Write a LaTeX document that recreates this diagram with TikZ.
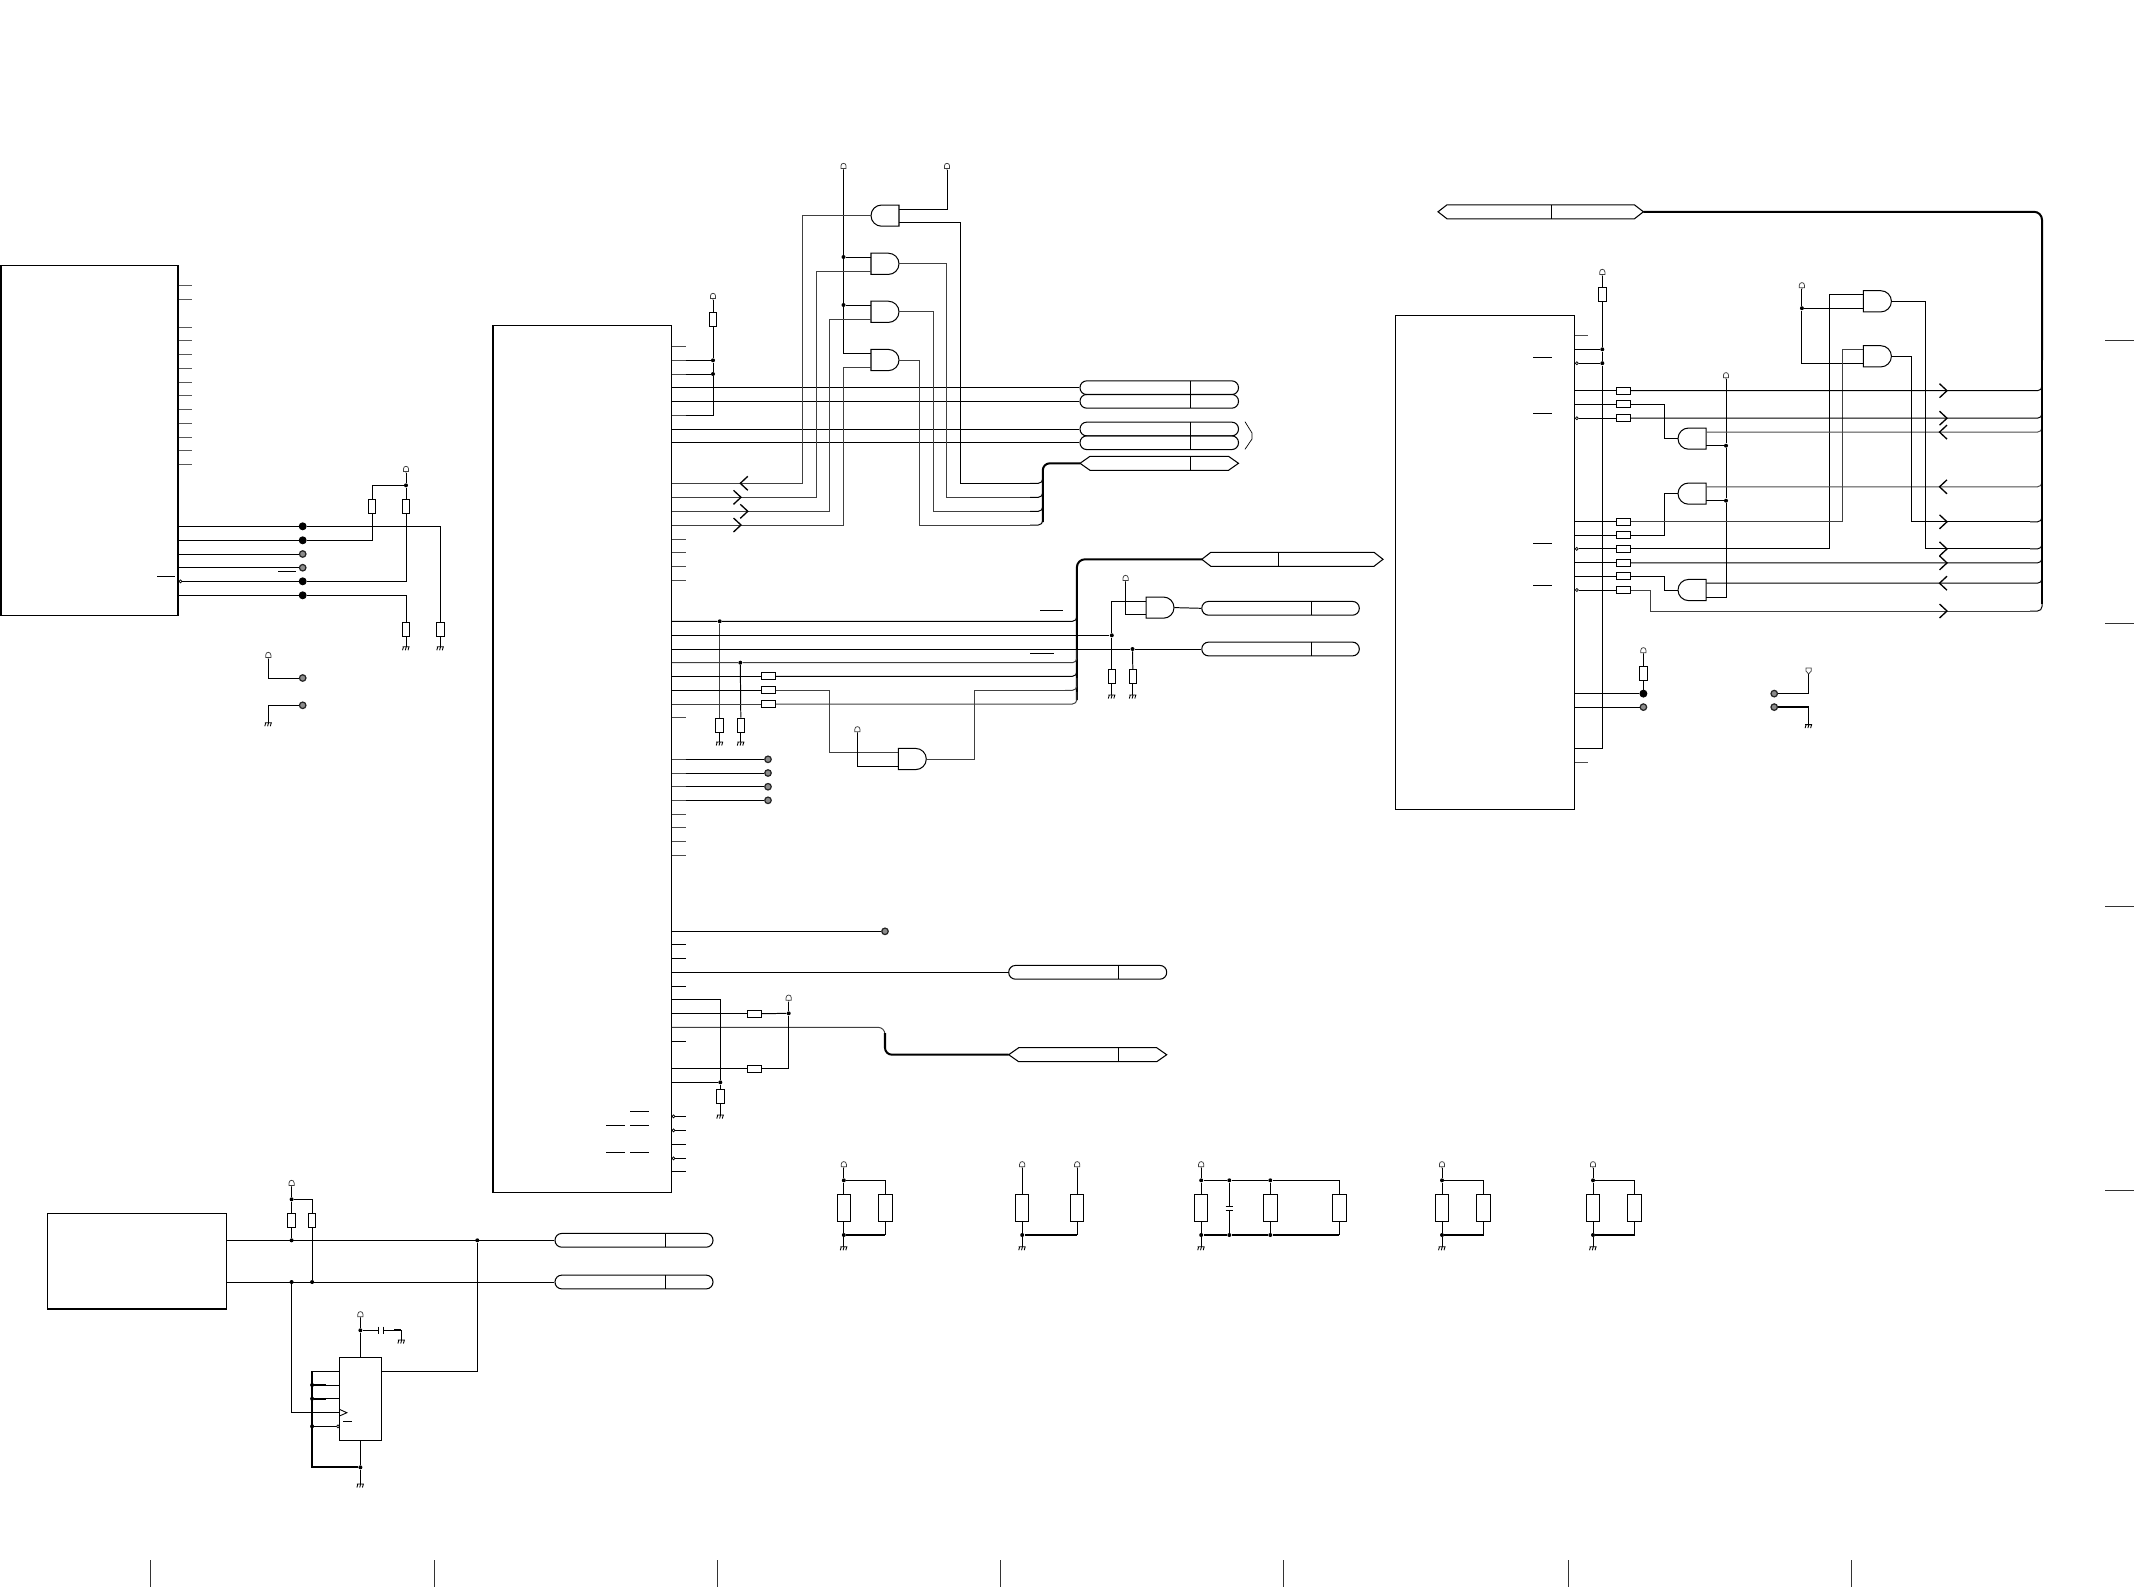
\documentclass[tikz,border=0pt]{standalone}
\usetikzlibrary{calc}
\tikzset{
  wire/.style={line width=0.56pt,line cap=butt,line join=miter},
  buswire/.style={line width=1.15pt},
  rnd/.style={rounded corners=0.09cm},
  chip/.style={draw,line width=0.62pt,rectangle,inner sep=0pt},
  rv/.style={draw,fill=white,line width=0.56pt,rectangle,inner sep=0pt,minimum width=0.15cm,minimum height=0.28cm},
  rh/.style={draw,fill=white,line width=0.56pt,rectangle,inner sep=0pt,minimum width=0.28cm,minimum height=0.14cm},
  rbig/.style={draw,fill=white,line width=0.56pt,rectangle,inner sep=0pt,minimum width=0.27cm,minimum height=0.55cm},
  jn/.style={circle,fill=black,inner sep=0pt,minimum size=0.08cm},
  termopen/.style={circle,draw=black!85,fill=black!45,line width=0.7pt,inner sep=0pt,minimum size=0.13cm},
  termfull/.style={circle,draw=black,fill=black,line width=0.5pt,inner sep=0pt,minimum size=0.14cm},
  bub/.style={circle,draw,fill=white,line width=0.4pt,inner sep=0pt,minimum size=0.06cm},
  pillshape/.style={draw,line width=0.6pt,rectangle,rounded corners=0.135cm,inner sep=0pt,minimum height=0.275cm},
  gatebox/.style={rectangle,inner sep=0pt,minimum width=0.56cm,minimum height=0.42cm},
  border/.style={line width=0.55pt,black!80},
}
% power rail symbol: #1 name of its foot, #2 x, #3 y of its foot
\newcommand{\vcc}[3]{\coordinate (#1) at (#2,#3);
  \draw[line width=0.42pt,black!75] (#2,#3) -- (#2,#3-1.5) (#2-2.6,#3-1.5) -- (#2-2.6,#3-4) .. controls (#2-2.6,#3-7.6) and (#2+2.6,#3-7.6) .. (#2+2.6,#3-4) -- (#2+2.6,#3-1.5) -- cycle;}
% ground symbol: #1 name of its head
\newcommand{\gnd}[3]{\coordinate (#1) at (#2,#3);
  \draw[line width=0.5pt] ($(#1)+(-3.5,0)$) -- ($(#1)+(3.5,0)$)
    ($(#1)+(-2.5,0)$) -- ++(-1,3.5) ($(#1)+(0.3,0)$) -- ++(-1,3.5) ($(#1)+(3,0)$) -- ++(-1,3.5);}
\newcommand{\jnode}[3]{\node[jn] (#1) at (#2,#3) {};}
\newcommand{\topen}[3]{\node[termopen] (#1) at (#2,#3) {};}
\newcommand{\tfull}[3]{\node[termfull] (#1) at (#2,#3) {};}
\newcommand{\resv}[3]{\node[rv] (#1) at (#2,#3) {};}
\newcommand{\resh}[3]{\node[rh] (#1) at (#2,#3) {};}
\newcommand{\resb}[3]{\node[rbig] (#1) at (#2,#3) {};}
\newcommand{\bubble}[3]{\node[bub] (#1) at (#2,#3) {};}
% AND gate, flat side on the left
\newcommand{\gateL}[3]{\node[gatebox] (#1) at (#2,#3) {};
  \begin{scope}[shift={(#2,#3)}]
  \draw[line width=0.58pt] (-14,-10.6) -- (3.4,-10.6) .. controls (9.2,-10.6) and (14,-5.9) .. (14,0) .. controls (14,5.9) and (9.2,10.6) .. (3.4,10.6) -- (-14,10.6) -- cycle;
  \end{scope}}
% AND gate, flat side on the right
\newcommand{\gateR}[3]{\node[gatebox] (#1) at (#2,#3) {};
  \begin{scope}[shift={(#2,#3)}]
  \draw[line width=0.58pt] (14,-10.6) -- (-3.4,-10.6) .. controls (-9.2,-10.6) and (-14,-5.9) .. (-14,0) .. controls (-14,5.9) and (-9.2,10.6) .. (-3.4,10.6) -- (14,10.6) -- cycle;
  \end{scope}}
% bus label: name, x1, x2, divider x, y
\newcommand{\pill}[5]{\node[pillshape,minimum width={(#3-#2)*0.02cm}] (#1) at ({(#2+#3)/2},#5) {};
  \draw[line width=0.56pt] (#4,#5-7) -- (#4,#5+7);}
% bus label with pointed ends; #6 is the tip length
\newcommand{\hexa}[6]{\coordinate (#1) at (#2,#5);
  \draw[line width=0.6pt] (#2,#5) -- (#2+#6,#5-7) -- (#3-#6,#5-7) -- (#3,#5) -- (#3-#6,#5+7) -- (#2+#6,#5+7) -- cycle;
  \draw[line width=0.56pt] (#4,#5-7) -- (#4,#5+7);
  \coordinate (#1r) at (#3,#5);}
\newcommand{\chevL}[2]{\draw[line width=0.75pt] (#1+7.5,#2-7) -- (#1,#2) -- (#1+7.5,#2+7);}
\newcommand{\chevR}[2]{\draw[line width=0.75pt] (#1-7.5,#2-7) -- (#1,#2) -- (#1-7.5,#2+7);}
\begin{document}
\begin{tikzpicture}[x=0.02cm,y=-0.02cm]
\useasboundingbox (0,0) rectangle (2134,1587);

% frame ticks
\foreach \xx in {150,434,717,1000,1283,1568,1851} \draw[border] (\xx,1560) -- (\xx,1587);
\foreach \yy in {340,623,906,1190} \draw[border] (2105,\yy) -- (2134,\yy);

%% ---------- left IC ----------
\node[chip,minimum width=3.54cm,minimum height=7.0cm] (icA) at (89.5,440.5) {};
\foreach \yy in {285.7,299.3,327.3,340.7,354.3,368.3,382,395.7,409.3,423.3,437,450.7,464.3}
  \draw[wire,black!65] (icA.east |- 0,\yy) -- (192,\yy);
\tfull{ta1}{302.7}{526.3}\tfull{ta2}{302.7}{540.3}\topen{ta3}{302.7}{554}\topen{ta4}{302.7}{567.7}\tfull{ta5}{302.7}{581.3}\tfull{ta6}{302.7}{595.3}
\vcc{va}{406}{473}
\jnode{ja}{406}{485.3}
\resv{ra1}{372}{506}\resv{ra2}{406}{506}\resv{ra3}{406}{629.3}\resv{ra4}{440.3}{629.3}
\gnd{ga3}{406}{646.7}\gnd{ga4}{440.3}{646.7}
\bubble{ba5}{180.5}{581.3}
\draw[wire] (va) -- (ja) -- (ra2.north);
\draw[wire] (ja) -| (ra1.north);
\draw[wire] (ra1.south) |- (ta2);
\draw[wire] (ra2.south) |- (ta5);
\draw[wire] (icA.east |- ta1) -- (ta1) -- (ra4.north |- ta1) -- (ra4.north);
\draw[wire] (icA.east |- ta2) -- (ta2);
\draw[wire] (icA.east |- ta3) -- (ta3);
\draw[wire] (icA.east |- ta4) -- (ta4);
\draw[wire] (ba5) -- (ta5);
\draw[wire] (icA.east |- ta6) -- (ta6) -| (ra3.north);
\draw[wire] (ra3.south) -- (ga3);
\draw[wire] (ra4.south) -- (ga4);
\draw[wire] (157,576.3) -- (175,576.3);
\draw[wire] (278,571.3) -- (295.7,571.3);
\vcc{vb}{268.3}{659}
\topen{tb1}{302.7}{678}\topen{tb2}{302.7}{705.3}
\gnd{gb}{268.3}{722.7}
\draw[wire] (vb) |- (tb1);
\draw[wire] (gb) |- (tb2);

%% ---------- main IC ----------
\node[chip,minimum width=3.57cm,minimum height=17.35cm] (icB) at (582.2,758.7) {};
\foreach \yy in {346.7,360.3,374,387.7,401.3,415.3,429,442.7,483.3,497.3,511.3,525,539,552.7,566.3,580.3,621.3,635.3,649,662.7,676.3,690.3,704,717.7,759.3,773,786.7,800.3,814,827.7,841.3,855}
  \draw[wire,black!70] (icB.east |- 0,\yy) -- (685.7,\yy);
\foreach \yy in {931.3,944.3,958.3,972.3,986.3,999.3,1013.3,1027.3,1041.3,1068.7,1082.3,1116.3,1130.3,1144.3,1158.3,1171.3}
  \draw[wire] (icB.east |- 0,\yy) -- (685.7,\yy);
\bubble{bm1}{673.5}{1116.3}\bubble{bm2}{673.5}{1130.3}\bubble{bm3}{673.5}{1158.3}
\foreach \xa/\xb/\yy in {630/649/1111.3,606/624.7/1125,630/649/1125,606/624.7/1152,630/649/1152}
  \draw[wire] (\xa,\yy) -- (\xb,\yy);

% pull-up at the top of main IC
\vcc{vc}{713}{300}
\resv{rc}{713}{319.3}
\jnode{jc1}{713}{360.3}\jnode{jc2}{713}{374}
\draw[wire] (vc) -- (rc.north);
\draw[wire] (rc.south) -- (jc1) -- (jc2) -- (713,415.3) -- (685.7,415.3);
\draw[wire] (685.7,360.3) -- (jc1);
\draw[wire] (685.7,374) -- (jc2);

% bus labels, top
\pill{p1}{1080}{1238.5}{1190}{387.7}
\pill{p2}{1080}{1238.5}{1190}{401.3}
\pill{p3}{1080}{1238.5}{1190}{429}
\pill{p4}{1080}{1238.5}{1190}{442.7}
\hexa{h5}{1080}{1238.5}{1190}{463.3}{10}
\foreach \n in {p1,p2,p3,p4} \draw[wire] (icB.east |- \n.west) -- (\n.west);
\draw[line width=0.4pt] (1245,421.7) -- (1252,433) -- (1252,439) -- (1245,449.3);

% gates at the top
\vcc{vd}{843.5}{170}\vcc{ve}{947}{170}
\gateR{g1}{885}{215.6}
\gateL{g2}{885}{263.8}
\gateL{g3}{885}{311.8}
\gateL{g4}{885}{360}
\jnode{jd1}{843.5}{257}\jnode{jd2}{843.5}{305}
\draw[wire] (vd) -- (jd1) -- (jd2) -- (843.5,353.3) -- (g4.west |- 0,353.3);
\draw[wire] (jd1) -- (g2.west |- jd1);
\draw[wire] (jd2) -- (g3.west |- jd2);
\draw[wire] (ve) |- (g1.east |- 0,209.3);
\draw[wire,black!75] (g1.west) -- (802.3,215.6) -- (802.3,483.3) -- (icB.east |- 0,483.3);
\draw[wire,black!75] (g2.west |- 0,271) -- (816.2,271) -- (816.2,497.3) -- (icB.east |- 0,497.3);
\draw[wire,black!75] (g3.west |- 0,319) -- (829.6,319) -- (829.6,511.3) -- (icB.east |- 0,511.3);
\draw[wire,black!75] (g4.west |- 0,367.3) -- (843.5,367.3) -- (843.5,525) -- (icB.east |- 0,525);
\chevL{740.3}{483.3}\chevR{741}{497.3}\chevR{747.8}{511.3}\chevR{741}{525}
\draw[wire] (g1.east |- 0,222) -- (960.5,222) -- (960.5,483.3) -- (1030,483.3);
\draw[wire,rnd] (1030,483.3) -- (1042.8,483.3) -- (1042.8,470);
\draw[wire,black!75] (g2.east) -- (946.7,263.8) -- (946.7,497.3) -- (1030,497.3);
\draw[wire,rnd] (1030,497.3) -- (1042.8,497.3) -- (1042.8,484);
\draw[wire,black!75] (g3.east) -- (933.2,311.8) -- (933.2,511.3) -- (1030,511.3);
\draw[wire,rnd] (1030,511.3) -- (1042.8,511.3) -- (1042.8,498);
\draw[wire,black!75] (g4.east) -- (919.8,360) -- (919.8,525) -- (1030,525);
\draw[wire,rnd] (1030,525) -- (1042.8,525) -- (1042.8,512);
\draw[buswire,rounded corners=0.14cm] (1042.8,522) -- (1042.8,463.3) -- (h5);

%% ---------- middle ----------
\hexa{h2}{1201.8}{1383}{1278.5}{559.3}{9}
\pill{p6}{1201.8}{1359.3}{1311.5}{608.3}
\pill{p7}{1201.8}{1359.3}{1311.5}{649}
\draw[buswire,rounded corners=0.16cm] (1076.9,700) -- (1076.9,559.3) -- (h2);
\jnode{jf1}{719.7}{621.3}\jnode{jf2}{740.3}{662.7}
\jnode{jf3}{1111.8}{635.3}\jnode{jf4}{1132.5}{649}
\resv{rf1}{719.7}{725}\resv{rf2}{740.8}{725}
\resv{rf3}{1111.8}{676.3}\resv{rf4}{1132.8}{676.3}
\gnd{gf1}{719.7}{742}\gnd{gf2}{740.8}{742}\gnd{gf3}{1111.8}{695}\gnd{gf4}{1132.8}{695}
\draw[wire,rnd] (icB.east |- jf1) -- (jf1) -- (1076.9,621.3) -- (1076.9,608);
\draw[wire,black!75] (jf1) -- (rf1.north);\draw[wire] (rf1.south) -- (gf1);
\draw[wire,black!75,rnd] (icB.east |- jf2) -- (jf2) -- (1076.9,662.7) -- (1076.9,650);
\draw[wire] (jf2) -- (rf2.north);\draw[wire] (rf2.south) -- (gf2);
\draw[wire] (icB.east |- jf3) -- (jf3);
\draw[wire] (icB.east |- jf4) -- (jf4) -- (p7.west);
\draw[wire] (jf4) -- (rf4.north);\draw[wire] (rf4.south) -- (gf4);
\draw[wire] (rf3.south) -- (gf3);
\gateL{g5}{1160}{607.6}
\vcc{vf}{1125.6}{582}
\draw[wire] (jf3) -- (rf3.north);
\draw[wire] (jf3) -- (1111.8,601.3) -- (g5.west |- 0,601.3);
\draw[wire] (vf) |- (g5.west |- 0,614.3);
\draw[wire] (g5.east) -- (p6.west);
\draw[wire] (1040.2,610.3) -- (1063.1,610.3);
\draw[wire] (1030,653.3) -- (1054,653.3);
\resh{rg1}{768.5}{676.3}\resh{rg2}{768.5}{690.3}\resh{rg3}{768.5}{704}
\draw[wire] (icB.east |- rg1) -- (rg1);
\draw[wire,rnd] (rg1) -- (1076.9,676.3) -- (1076.9,664);
\draw[wire] (icB.east |- rg2) -- (rg2);
\draw[wire,black!75] (icB.east |- rg3) -- (rg3);
\draw[wire,black!75,rnd] (rg3) -- (1076.9,704) -- (1076.9,692);
\gateL{g6}{912.3}{759}
\vcc{vg}{857.4}{733.3}
\draw[wire,black!75] (rg2) -- (829.9,690.3) -- (829.9,752) -- (g6.west |- 0,752);
\draw[wire] (vg) |- (g6.west |- 0,766.7);
\draw[wire,black!75] (g6.east) -- (974.5,759) -- (974.5,690.3) -- (1065,690.3);
\draw[wire,black!75,rnd] (1065,690.3) -- (1076.9,690.3) -- (1076.9,678);
\topen{th1}{768}{759.3}\topen{th2}{768}{773}\topen{th3}{768}{786.7}\topen{th4}{768}{800.3}
\foreach \n in {th1,th2,th3,th4} \draw[wire] (685.7,0 |- \n) -- (\n);

%% ---------- lower part of main IC ----------
\topen{ti}{885}{931.3}
\draw[wire] (icB.east |- ti) -- (ti);
\pill{p8}{1008.7}{1166.7}{1118.7}{972.3}
\draw[wire] (icB.east |- p8.west) -- (p8.west);
\hexa{h8}{1008.7}{1166.7}{1118.7}{1054.7}{10}
\draw[wire,black!75,rounded corners=0.14cm] (icB.east |- 0,1027.3) -- (885,1027.3) -- (885,1040);
\draw[buswire,rounded corners=0.14cm] (885,1033) -- (885,1054.7) -- (h8);
\jnode{jj}{720.3}{1082.3}
\resv{rj}{720.3}{1096.3}
\gnd{gj}{720.3}{1115}
\draw[wire] (icB.east |- 0,999.3) -| (jj);
\draw[wire] (icB.east |- jj) -- (jj) -- (rj.north);
\draw[wire] (rj.south) -- (gj);
\vcc{vk}{788.7}{1001.7}
\jnode{jk}{788.7}{1013.3}
\resh{rk1}{754.5}{1013.8}\resh{rk2}{754.5}{1068.8}
\draw[wire] (vk) -- (jk) -- (788.7,1068.8) -- (rk2);
\draw[wire] (jk) -- (rk1);
\draw[wire] (icB.east |- rk1) -- (rk1);
\draw[wire] (icB.east |- rk2) -- (rk2);

%% ---------- power groups ----------
\foreach \nm/\xa/\xb in {a/843.8/885.3,d/1442/1483.5,e/1593/1634.5}{
  \vcc{vp\nm}{\xa}{1168.3}
  \jnode{jpt\nm}{\xa}{1180.3}
  \jnode{jpb\nm}{\xa}{1235}
  \resb{rpa\nm}{\xa}{1208}\resb{rpb\nm}{\xb}{1208}
  \gnd{gp\nm}{\xa}{1246.7}
  \draw[wire] (vp\nm) -- (jpt\nm) -- (rpa\nm.north);
  \draw[wire] (jpt\nm) -| (rpb\nm.north);
  \draw[wire] (rpa\nm.south) -- (jpb\nm) -- (gp\nm);
  \draw[wire] (rpb\nm.south) -- (\xb,1235);
  \draw[buswire] (jpb\nm) -- (\xb,1235);
}
\vcc{vpb}{1022.2}{1168.3}\vcc{vpc}{1077.2}{1168.3}
\resb{rpbA}{1022.2}{1208}\resb{rpbB}{1077.2}{1208}
\jnode{jpbB}{1022.2}{1235}\gnd{gpb}{1022.2}{1246.7}
\draw[wire] (vpb) -- (rpbA.north);
\draw[wire] (vpc) -- (rpbB.north);
\draw[wire] (rpbA.south) -- (jpbB) -- (gpb);
\draw[wire] (rpbB.south) -- (1077.2,1235);
\draw[buswire] (jpbB) -- (1077.2,1235);
\vcc{vq}{1201.2}{1168.3}
\jnode{jq1}{1201.2}{1180.3}\jnode{jq2}{1229.3}{1180.3}\jnode{jq3}{1270.3}{1180.3}
\jnode{jq4}{1201.2}{1235}\jnode{jq5}{1229.3}{1235}\jnode{jq6}{1270.3}{1235}
\resb{rq1}{1201.2}{1208}\resb{rq2}{1270.3}{1208}\resb{rq3}{1339.3}{1208}
\gnd{gq}{1201.2}{1246.7}
\draw[wire] (vq) -- (jq1) -- (rq1.north);
\draw[wire] (jq1) -- (jq2) -- (jq3) -| (rq3.north);
\draw[wire] (jq3) -- (rq2.north);
\draw[wire] (rq1.south) -- (jq4) -- (gq);
\draw[wire] (rq2.south) -- (jq6);
\draw[wire] (rq3.south) -- (1339.3,1235);
\draw[buswire] (jq4) -- (jq5) -- (jq6) -- (1339.3,1235);
\draw[wire] (jq2) -- (1229.3,1206) (1229.3,1210.7) -- (jq5);
\draw[wire] (1225.5,1206) -- (1233,1206) (1225.5,1210.7) -- (1233,1210.7);

%% ---------- lower left ----------
\node[chip,minimum width=3.58cm,minimum height=1.914cm] (icC) at (136.9,1261.1) {};
\pill{p9}{555}{713}{665.3}{1240.3}
\pill{p10}{555}{713}{665.3}{1282}
\draw[wire] (icC.east |- p9.west) -- (p9.west);
\draw[wire] (icC.east |- p10.west) -- (p10.west);
\vcc{vr}{291.6}{1187}
\jnode{jr1}{291.6}{1199.3}
\resv{rr1}{291.6}{1220.5}\resv{rr2}{312.1}{1220.5}
\jnode{jr2}{291.6}{1240.3}\jnode{jr3}{312.1}{1282}\jnode{jr4}{291.6}{1282}
\jnode{jr5}{477.3}{1240.3}
\draw[wire] (vr) -- (jr1) -- (rr1.north);
\draw[wire] (jr1) -| (rr2.north);
\draw[wire] (rr1.south) -- (jr2);
\draw[wire] (rr2.south) -- (jr3);
\node[chip,minimum width=0.838cm,minimum height=1.66cm] (icD) at (360.4,1398.8) {};
\draw[wire] (jr4) |- (icD.west |- 0,1412.3);
\draw[wire] (jr5) |- (icD.east |- 0,1371.3);
\vcc{vs}{360.4}{1318.3}
\jnode{js1}{360.4}{1330.3}
\jnode{js2}{360.4}{1467.3}
\gnd{gs}{360.4}{1484}
\gnd{gt}{401.4}{1340}
\draw[wire] (vs) -- (js1) -- (icD.north);
\draw[wire] (icD.south) -- (js2) -- (gs);
\draw[wire] (js1) -- (378.7,1330.3) (383.6,1330.3) -- (401.4,1330.3) -- (gt);
\draw[wire] (378.7,1326.7) -- (378.7,1334) (383.6,1326.7) -- (383.6,1334);
\draw[line width=1.2pt] (394,1330.3) -- (401.4,1330.3);
\draw[buswire] (312.1,1371.3) -- (312.1,1467.3) -- (js2);
\jnode{ju1}{312.1}{1385}\jnode{ju2}{312.1}{1398.7}\jnode{ju3}{312.1}{1426.3}
\draw[wire] (312.1,1371.3) -- (icD.west |- 0,1371.3);
\draw[wire] (ju1) -- (icD.west |- ju1);
\draw[wire] (ju2) -- (icD.west |- ju2);
\draw[buswire] (ju1) -- (325.5,1385);
\draw[buswire] (ju2) -- (325.5,1398.7);
\bubble{bu}{338}{1426.3}
\draw[wire] (ju3) -- (bu);
\draw[line width=0.5pt] (339.4,1409.3) -- (346.9,1412.7) -- (339.4,1416);
\draw[wire] (343.4,1421.3) -- (351.9,1421.3);

%% ---------- right IC ----------
\node[chip,minimum width=3.58cm,minimum height=9.89cm] (icE) at (1485.1,562.7) {};
\hexa{h9}{1438}{1643.4}{1551.4}{211.8}{9}
\draw[buswire,rounded corners=0.16cm] (h9r) -- (2042,211.8) -- (2042,360);
\vcc{vw}{1602.3}{276}
\resv{rw}{1602.3}{294.2}
\jnode{jw1}{1602.3}{349.3}\jnode{jw2}{1602.3}{363.2}
\draw[wire] (vw) -- (rw.north);
\draw[wire] (rw.south) -- (jw1) -- (jw2) |- (icE.east |- 0,748);
\draw[wire] (icE.east |- jw1) -- (jw1);
\bubble{bw}{1576.8}{363.2}
\draw[wire] (bw) -- (jw2);
\draw[wire,black!70] (icE.east |- 0,335.4) -- (1588,335.4);
\draw[wire,black!70] (icE.east |- 0,762) -- (1588,762);
\foreach \yy in {357.9,413.2,543.2,585.4} \draw[wire] (1533,\yy) -- (1552,\yy);
% series resistors
\foreach \n/\yy in {1/390.7,2/404.3,3/418.2,5/521.8,6/535.4,7/548.9,8/562.9,9/576.4,10/590}
  {\resh{rx\n}{1623}{\yy}}
\bubble{bx3}{1576.8}{418.2}\bubble{bx7}{1576.8}{548.9}\bubble{bx10}{1576.8}{590}
\foreach \n in {1,2,5,6,8,9} \draw[wire] (icE.east |- rx\n) -- (rx\n);
\foreach \n in {3,7,10} \draw[wire] (bx\n) -- (rx\n);
% gates
\gateR{gA}{1692}{438.6}
\gateR{gB}{1692}{493.6}
\gateR{gE}{1692}{590}
\gateL{gC}{1877.4}{301.3}
\gateL{gD}{1877.4}{356.3}
\vcc{vy}{1726}{379.3}
\jnode{jy1}{1726}{445.7}\jnode{jy2}{1726}{500.7}
\draw[wire] (vy) -- (jy1) -- (jy2) -- (1726,597.1) -- (gE.east |- 0,597.1);
\draw[wire] (jy1) -- (gA.east |- jy1);
\draw[wire] (jy2) -- (gB.east |- jy2);
\draw[wire] (rx2) -- (1664.4,404.3) -- (1664.4,438.6) -- (gA.west);
\draw[wire] (rx6) -- (1664.4,535.4) -- (1664.4,493.6) -- (gB.west);
\draw[wire] (rx9) -- (1664.4,576.4) -- (1664.4,590) -- (gE.west);
\vcc{vz}{1801.9}{289.3}
\jnode{jz}{1801.9}{308.2}
\draw[wire] (vz) -- (jz) -- (gC.west |- jz);
\draw[wire] (jz) |- (gD.west |- 0,363.2);
\draw[wire] (rx7) -- (1829.6,548.9) -- (1829.6,294.3) -- (gC.west |- 0,294.3);
\draw[wire,black!75] (rx5) -- (1842.5,521.8) -- (1842.5,349.6) -- (gD.west |- 0,349.6);
% lines running into the right bus
\draw[wire,rnd] (rx1) -- (2042,390.7) -- (2042,378);
\draw[wire,rnd] (rx3) -- (2042,418.2) -- (2042,405);
\draw[wire,black!70,rnd] (gA.east |- 0,432.1) -- (2042,432.1) -- (2042,419);
\draw[wire,black!70,rnd] (gB.east |- 0,486.8) -- (2042,486.8) -- (2042,474);
\draw[wire] (gD.east) -- (1911.3,356.3) -- (1911.3,521.8) -- (2030,521.8);
\draw[wire,rnd] (2030,521.8) -- (2042,521.8) -- (2042,509);
\draw[wire] (gC.east) -- (1925.5,301.3) -- (1925.5,548.9) -- (2030,548.9);
\draw[wire,rnd] (2030,548.9) -- (2042,548.9) -- (2042,536);
\draw[wire,rnd] (rx8) -- (2042,562.9) -- (2042,550);
\draw[wire,rnd] (gE.east |- 0,583.2) -- (2042,583.2) -- (2042,570);
\draw[wire,black!75] (rx10) -- (1650,590) -- (1650,611) -- (2030,611);
\draw[wire,rnd] (2030,611) -- (2042,611) -- (2042,596);
\draw[line width=0.75pt] (2042,355) -- (2042,604);
\chevR{1947}{390.7}\chevR{1947}{418.2}\chevL{1939.5}{432.1}\chevL{1939.5}{486.8}\chevR{1947}{521.8}\chevR{1947}{548.9}\chevR{1947}{562.9}\chevL{1939.5}{583.2}\chevR{1947}{611}
% terminals below
\vcc{vm}{1643.4}{654.3}
\resv{rm}{1643.4}{673}
\tfull{tm1}{1643.4}{693.6}\topen{tm2}{1643.4}{707.1}
\draw[wire] (vm) -- (rm.north);
\draw[wire] (rm.south) -- (tm1);
\draw[wire] (icE.east |- tm1) -- (tm1);
\draw[wire] (icE.east |- tm2) -- (tm2);
\coordinate (vn) at (1808.6,674);
\draw[line width=0.42pt,black!75] (vn) -- ++(-2.6,-3) -- ++(0,-3) -- ++(5.2,0) -- ++(0,3) -- cycle;
\topen{tn1}{1774.2}{693.6}\topen{tn2}{1774.2}{707.1}
\gnd{gn}{1808.6}{724.6}
\draw[wire] (tn1) -| (vn);
\draw[buswire] (tn2) -- (1808.6,707.1);
\draw[wire] (1808.6,707.1) -- (gn);
\end{tikzpicture}
\end{document}
